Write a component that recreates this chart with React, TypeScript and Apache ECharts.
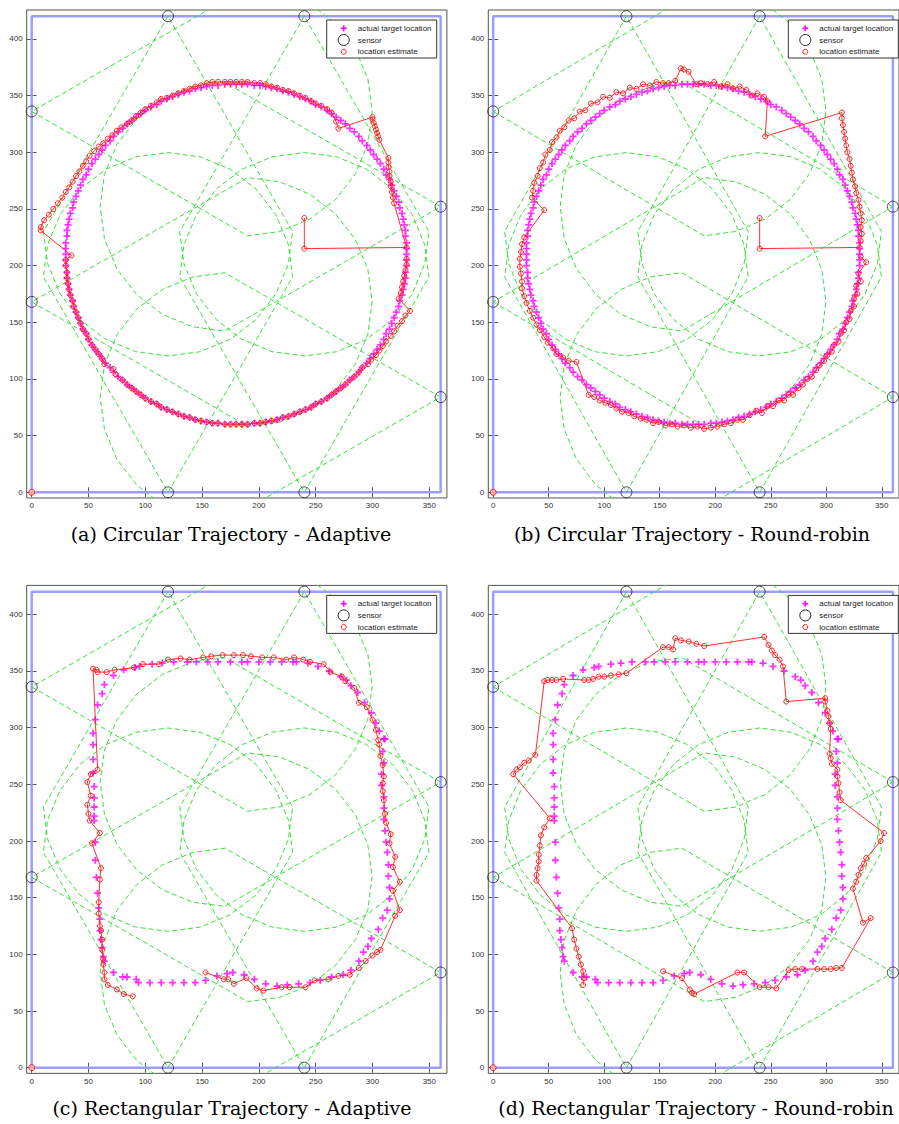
import React, { useEffect, useRef } from "react";
import * as echarts from "echarts";

// ---------- data ----------
const X_TICKS = [0, 50, 100, 150, 200, 250, 300, 350];
const Y_TICKS = [0, 50, 100, 150, 200, 250, 300, 350, 400];

const FIELD_BOUNDARY = [[0, 0], [360, 0], [360, 420], [0, 420], [0, 0]];

const SENSOR_X = [120, 240, 0, 360, 0, 360, 120, 240];
const SENSOR_Y = [420, 420, 336, 252, 168, 84, 0, 0];
const SENSOR_DIR = [270, 270, 0, 180, 0, 180, 90, 90];
const CONE_LEN = 190;
const HALF_ANGLE = 30;
const ARC_STEPS = 12;

const ORIGIN_MARK = [[0, 0]];

const ACTUAL_CIRCLE = [
  [330,210],[330,215],[330,220],[329,226],[329,231],[328,236],[327,241],[326,246],[324,251],[323,256],[321,261],[319,266],[317,271],[315,276],[312,280],[310,285],[307,290],[304,294],[301,298],[298,302],[295,306],[291,310],[288,314],[284,318],[280,321],[276,325],[272,328],[268,331],[264,334],[260,337],[255,340],[250,342],[246,345],[241,347],[236,349],[231,351],[226,353],[221,354],[216,356],[211,357],[206,358],[201,359],[196,359],[190,360],[185,360],
  [180,360],[175,360],[170,360],[164,359],[159,359],[154,358],[149,357],[144,356],[139,354],[134,353],[129,351],[124,349],[119,347],[114,345],[110,342],[105,340],[100,337],[96,334],[92,331],[88,328],[84,325],[80,321],[76,318],[72,314],[69,310],[65,306],[62,302],[59,298],[56,294],[53,290],[50,285],[48,280],[45,276],[43,271],[41,266],[39,261],[37,256],[36,251],[34,246],[33,241],[32,236],[31,231],[31,226],[30,220],[30,215],
  [30,210],[30,205],[30,200],[31,194],[31,189],[32,184],[33,179],[34,174],[36,169],[37,164],[39,159],[41,154],[43,149],[45,144],[48,140],[50,135],[53,130],[56,126],[59,122],[62,118],[65,114],[69,110],[72,106],[76,102],[80,99],[84,95],[88,92],[92,89],[96,86],[100,83],[105,80],[110,78],[114,75],[119,73],[124,71],[129,69],[134,67],[139,66],[144,64],[149,63],[154,62],[159,61],[164,61],[170,60],[175,60],
  [180,60],[185,60],[190,60],[196,61],[201,61],[206,62],[211,63],[216,64],[221,66],[226,67],[231,69],[236,71],[241,73],[246,75],[250,78],[255,80],[260,83],[264,86],[268,89],[272,92],[276,95],[280,99],[284,102],[288,106],[291,110],[295,114],[298,118],[301,122],[304,126],[307,130],[310,135],[312,140],[315,144],[317,149],[319,154],[321,159],[323,164],[324,169],[326,174],[327,179],[328,184],[329,189],[329,194],[330,200],[330,205]
];

const EST_A = [
  [240,242],[240,215],[330,216],
  [319,255],[318,260],[317,265],[316,270],[316,274],[315,279],[315,283],[314,287],[314,291],[314,295],
  [306,311],[305,314],[304,317],[303,320],[302,323],[301,326],[300,329],[300,331],
  [270,321],[268,327],
  [264,335],[260,338],[255,341],[250,343],[246,345],[241,348],[236,350],[231,352],[226,354],[221,355],[216,357],[211,358],[206,360],[201,361],[196,361],[190,362],[185,362],[180,362],[175,362],[170,362],[164,362],[159,362],[154,361],[149,359],[144,358],[139,356],[134,354],[129,352],[124,350],[119,348],[114,347],[110,344],[105,341],[100,338],[96,335],[92,332],[88,328],
  [84,325],[79,322],[75,319],[71,315],[67,312],[63,308],[59,305],[55,301],[51,297],[48,292],[45,288],[42,283],[39,279],[36,274],[33,269],[30,265],[27,260],[23,255],[19,250],[15,245],[11,240],[8,234],[8,231],
  [35,209],
  [30,205],[30,200],[31,194],[31,189],[32,184],[33,179],[34,174],[36,169],[37,164],[39,159],[41,154],[43,149],[45,144],[48,140],[50,135],[53,130],[56,126],[59,122],[62,118],[64,113],[72,109],[74,104],[80,99],[84,95],[88,92],[92,89],[96,86],[100,83],[105,80],[110,78],[114,75],[119,73],[124,71],[129,69],[134,67],[139,66],[144,64],[149,63],[154,62],[159,61],[164,61],[170,60],[175,60],[180,60],[185,60],[190,60],[196,61],[201,61],[206,62],[211,63],[216,64],[221,66],[226,67],[231,69],[236,71],[241,73],[246,75],[250,78],[255,80],[260,83],[264,86],[268,89],[272,92],[276,95],[280,99],[284,102],[288,106],[291,110],
  [296,113],[299,117],[303,121],[306,125],[309,129],[312,133],[316,138],[319,142],[322,147],[326,151],[329,156],[333,160],
  [323,171],[325,176],[326,181],[327,186],[328,191],[329,196],[330,201],[330,206]
];

const EST_B = [
  [240,242],[240,215],[330,216],
  [331,222],[332,228],[331,234],[332,240],[331,246],[330,252],[329,258],[327,264],[326,270],[324,276],[323,282],[322,288],[321,294],[319,300],[318,306],[317,312],[316,318],[315,324],[314,330],[314,335],
  [245,314],
  [247,345],[244,349],[238,352],[233,350],[228,355],[222,358],[216,356],[211,360],[205,358],[199,362],[193,360],[187,361],[183,360],[176,371],[172,373],[169,374],[164,363],[158,361],
  [153,361],[147,362],[141,359],[135,360],[129,356],[123,357],[117,352],[111,353],[105,348],[99,349],[94,344],[88,343],[83,337],[78,336],[73,330],[68,328],[64,322],[60,319],[57,313],[53,309],[51,302],[47,298],[45,291],[42,286],[40,279],[37,273],[36,266],[35,260],[46,249],
  [28,225],[26,219],[25,212],[24,206],[24,199],[25,193],[26,186],[26,180],[28,173],[30,167],[33,160],[36,154],[39,148],[42,143],[46,137],[49,132],[54,127],[57,122],[63,119],[68,116],[75,115],
  [86,86],[91,84],[96,81],[101,79],[106,77],[111,74],[116,71],[122,70],[127,67],[133,65],[138,64],[144,61],[149,62],[155,59],[161,60],[166,58],[172,59],[178,57],[184,58],[190,56],[196,57],[202,58],[208,60],[214,61],[220,64],[225,64],[231,68],[237,72],[242,70],[247,76],[252,76],[257,81],[262,81],[266,86],[270,86],[275,92],[279,95],[283,100],[287,102],[291,108],[294,112],[298,116],[301,121],[305,124],[307,130],[311,133],[313,140],[316,143],[318,150],[321,153],[322,160],[325,164],[325,171],[328,175],[327,182],[331,186],[329,193],[336,203],[331,208]
];

const ACTUAL_RECT = [
  [64,94],[72,84],[80,80],[84,80],[92,78],[94,75],[104,75],[114,75],[124,75],[134,75],[144,75],[153,77],[163,81],[172,83],[177,84],[187,82],[196,78],[206,74],[216,72],[225,73],[235,74],[245,75],[254,77],[264,80],[274,82],[281,86],[288,94],[292,102],[296,107],[299,114],
  [305,122],[309,132],[313,139],[315,149],[315,159],[314,169],[314,179],[313,190],[312,199],[311,209],[310,219],[310,229],[310,239],[308,249],[308,259],[310,269],[309,279],[310,290],[311,290],
  [306,297],[303,304],[299,313],[293,322],[287,331],[281,337],[277,342],[272,345],[262,350],[252,354],
  [243,357],[233,358],[230,358],[220,358],[210,358],[200,358],[190,358],[185,358],[175,358],[164,358],[155,358],[145,358],[137,358],[125,358],[115,357],[106,356],[95,354],[91,353],[81,351],[72,346],
  [64,338],[62,330],[58,320],[56,307],[54,295],[54,285],[54,272],[54,260],[55,248],[55,238],[55,230],[55,222],[55,218],[56,199],[56,183],[57,168],[58,154],[59,141],[60,131],[60,121],[61,113],[62,106],[63,98]
];

const EST_C = [
  [153,84],[169,78],[173,78],[178,74],[189,79],[198,70],[204,68],[220,71],[227,71],[241,71],[249,77],[261,78],[270,81],[280,82],[288,88],[294,94],[300,99],[304,102],[307,104],
  [320,134],[324,139],[318,156],[324,164],[318,177],[320,186],[315,198],[316,206],[312,216],[311,224],[310,236],[309,244],[309,251],[310,257],[309,267],[307,275],[306,285],[305,289],
  [303,298],[300,307],[295,318],[288,322],[284,335],[276,341],[273,345],[263,349],
  [257,356],[245,358],[239,360],[231,362],[224,360],[213,362],[203,362],[193,363],[186,364],[178,364],[168,364],[158,363],[151,362],[139,360],[131,361],[120,360],[112,356],[98,356],[90,353],[73,351],[66,349],[58,349],[57,351],[54,352],
  [58,263],[52,259],[49,252],[52,240],[49,232],[50,224],[51,218],[60,207],[53,198],[61,176],[60,166],[59,146],[59,136],[60,125],[61,121],[62,113],[62,104],[63,96],[63,91],[64,84],[64,78],[67,73],[75,69],[81,65],[89,63]
];

const EST_D = [
  [153,85],[170,79],[177,69],[179,66],[181,65],[220,84],[226,84],[240,71],[248,71],[255,70],[266,86],[272,87],[278,87],[292,87],[298,87],[304,87],[309,88],[314,88],
  [340,132],[333,128],[324,158],[327,164],[329,170],[331,176],[334,180],[336,185],[349,200],[352,207],
  [313,236],[312,243],[311,251],[310,257],[310,263],[305,268],[304,273],[303,277],[304,299],[303,304],[302,310],[301,315],[299,323],[299,326],
  [264,323],[261,354],[258,360],[254,364],[251,368],[248,373],[244,380],
  [190,372],[183,374],[176,376],[169,377],[164,379],[162,369],[158,371],[153,371],
  [120,348],[113,347],[106,346],[100,345],[95,345],[90,343],[86,342],[82,342],
  [63,343],[57,342],[53,342],[49,342],[46,341],
  [38,276],[32,271],[28,269],[24,265],[21,263],[18,259],
  [51,220],[46,212],[43,205],[42,196],[41,188],[41,182],[40,176],[39,170],[39,165],
  [71,123],[73,113],[75,105],[77,98],[79,91],[81,85],[82,79],[81,73]
];

const LEGEND_LABELS = ["actual target location", "sensor", "location estimate"];
const CAPTIONS = [
  "(a) Circular Trajectory - Adaptive",
  "(b) Circular Trajectory - Round-robin",
  "(c) Rectangular Trajectory - Adaptive",
  "(d) Rectangular Trajectory - Round-robin",
];

// ---------- layout ----------
const X_MIN = -4.4, X_MAX = 365.5, Y_MIN = -5, Y_MAX = 425.5;
const SX = 1.136, SY = 1.1335;
const GRID_W = (X_MAX - X_MIN) * SX;
const GRID_H = (Y_MAX - Y_MIN) * SY;
const PANELS = [
  { left: 26.7, top: 10, actual: ACTUAL_CIRCLE, est: EST_A, capX: 231, capY: 534 },
  { left: 488.3, top: 10, actual: ACTUAL_CIRCLE, est: EST_B, capX: 692, capY: 534 },
  { left: 26.7, top: 585.4, actual: ACTUAL_RECT, est: EST_C, capX: 232, capY: 1108 },
  { left: 488.3, top: 585.4, actual: ACTUAL_RECT, est: EST_D, capX: 696, capY: 1108 },
];

const PLUS = "path://M2.6,0H4.4V2.6H7V4.4H4.4V7H2.6V4.4H0V2.6H2.6Z";
const LABEL_FONT = "Liberation Sans, Arial, sans-serif";

function sensorRegion(i: number): number[][] {
  const sx = SENSOR_X[i], sy = SENSOR_Y[i];
  const a = (SENSOR_DIR[i] * Math.PI) / 180;
  const cx = sx + CONE_LEN * Math.cos(a);
  const cy = sy + CONE_LEN * Math.sin(a);
  const w = CONE_LEN * Math.tan((HALF_ANGLE * Math.PI) / 180);
  const pts: number[][] = [[sx, sy]];
  for (let k = 0; k <= ARC_STEPS; k++) {
    const t = a - Math.PI / 2 + (Math.PI * k) / ARC_STEPS;
    pts.push([cx + w * Math.cos(t), cy + w * Math.sin(t)]);
  }
  pts.push([sx, sy]);
  return pts;
}

function buildOption() {
  const grid: any[] = [], xAxis: any[] = [], yAxis: any[] = [], series: any[] = [], graphic: any[] = [];
  const sensors = SENSOR_X.map((x, i) => [x, SENSOR_Y[i]]);
  PANELS.forEach((p, k) => {
    grid.push({ left: p.left, top: p.top, width: GRID_W, height: GRID_H, show: true, borderColor: "#555", borderWidth: 1, backgroundColor: "#fff" });
    const tick = { show: true, inside: true, length: 5, lineStyle: { color: "#555", width: 1 } };
    const common = { type: "value", gridIndex: k, splitLine: { show: false }, axisLine: { show: false } };
    xAxis.push({ ...common, min: X_MIN, max: X_MAX, position: "bottom",
      axisTick: { ...tick, customValues: X_TICKS },
      axisLabel: { customValues: X_TICKS, margin: 4, fontSize: 8, color: "#333", fontFamily: LABEL_FONT } });
    xAxis.push({ ...common, min: X_MIN, max: X_MAX, position: "top",
      axisTick: { ...tick, customValues: X_TICKS }, axisLabel: { show: false } });
    yAxis.push({ ...common, min: Y_MIN, max: Y_MAX, position: "left",
      axisTick: { ...tick, customValues: Y_TICKS },
      axisLabel: { customValues: Y_TICKS, margin: 4, fontSize: 8, color: "#333", fontFamily: LABEL_FONT } });
    yAxis.push({ ...common, min: Y_MIN, max: Y_MAX, position: "right",
      axisTick: { ...tick, customValues: Y_TICKS }, axisLabel: { show: false } });
    const ax = { xAxisIndex: 2 * k, yAxisIndex: 2 * k };
    series.push({ type: "line", ...ax, data: FIELD_BOUNDARY, symbol: "none", silent: true,
      lineStyle: { color: "#9d9dff", width: 2.5 }, z: 2 });
    for (let i = 0; i < SENSOR_X.length; i++) {
      series.push({ type: "line", ...ax, data: sensorRegion(i), symbol: "none", silent: true,
        lineStyle: { color: "#3ddd3d", width: 1, type: [5, 3] }, z: 3 });
    }
    series.push({ type: "scatter", ...ax, name: LEGEND_LABELS[0], data: p.actual, symbol: PLUS, symbolSize: 7,
      itemStyle: { color: "#ff00ff" }, z: 4 });
    series.push({ type: "scatter", ...ax, name: LEGEND_LABELS[1], data: sensors, symbol: "circle", symbolSize: 11, clip: false,
      itemStyle: { color: "rgba(0,0,0,0)", borderColor: "#222", borderWidth: 1 }, z: 5 });
    series.push({ type: "line", ...ax, name: LEGEND_LABELS[2], data: p.est, symbol: "circle", symbolSize: 5, showSymbol: true, showAllSymbol: true,
      itemStyle: { color: "rgba(0,0,0,0)", borderColor: "#ff1a1a", borderWidth: 1 },
      lineStyle: { color: "#ff3030", width: 1 }, z: 6 });
    series.push({ type: "scatter", ...ax, data: ORIGIN_MARK, symbol: "circle", symbolSize: 6, clip: false,
      itemStyle: { color: "#ffb0b0", borderColor: "#ff0000", borderWidth: 1 }, z: 7 });

    // legend box
    const bx = p.left + 300, by = p.top + 10;
    graphic.push({ type: "rect", z: 100, shape: { x: bx, y: by, width: 110, height: 38 },
      style: { fill: "#fff", stroke: "#333", lineWidth: 1 } });
    const rows = [by + 8.3, by + 20, by + 31.7];
    const ix = bx + 17;
    graphic.push({ type: "line", z: 101, shape: { x1: ix - 3, y1: rows[0], x2: ix + 3, y2: rows[0] }, style: { stroke: "#ff00ff", lineWidth: 1.6 } });
    graphic.push({ type: "line", z: 101, shape: { x1: ix, y1: rows[0] - 3, x2: ix, y2: rows[0] + 3 }, style: { stroke: "#ff00ff", lineWidth: 1.6 } });
    graphic.push({ type: "circle", z: 101, shape: { cx: ix, cy: rows[1], r: 5.5 }, style: { fill: "none", stroke: "#222", lineWidth: 1 } });
    graphic.push({ type: "circle", z: 101, shape: { cx: ix, cy: rows[2], r: 2.5 }, style: { fill: "none", stroke: "#ff1a1a", lineWidth: 1 } });
    LEGEND_LABELS.forEach((t, j) => {
      graphic.push({ type: "text", z: 101, x: bx + 31, y: rows[j],
        style: { text: t, fontSize: 8, fontFamily: LABEL_FONT, fill: "#222", align: "left", verticalAlign: "middle", textAlign: "left", textVerticalAlign: "middle" } });
    });
    // caption
    graphic.push({ type: "text", z: 101, x: p.capX, y: p.capY,
      style: { text: CAPTIONS[k], fontSize: 19, fontFamily: "DejaVu Serif, serif", fill: "#000", align: "center", verticalAlign: "middle", textAlign: "center", textVerticalAlign: "middle" } });
  });
  return { animation: false, backgroundColor: "#fff", grid, xAxis, yAxis, series, graphic };
}

export default function App() {
  const ref = useRef<HTMLDivElement>(null);
  useEffect(() => {
    document.body.style.margin = "0";
    if (!ref.current) return;
    const chart = echarts.init(ref.current, undefined, { renderer: "svg" });
    chart.setOption(buildOption() as any);
    return () => chart.dispose();
  }, []);
  return <div ref={ref} style={{ width: 899, height: 1124 }} />;
}
